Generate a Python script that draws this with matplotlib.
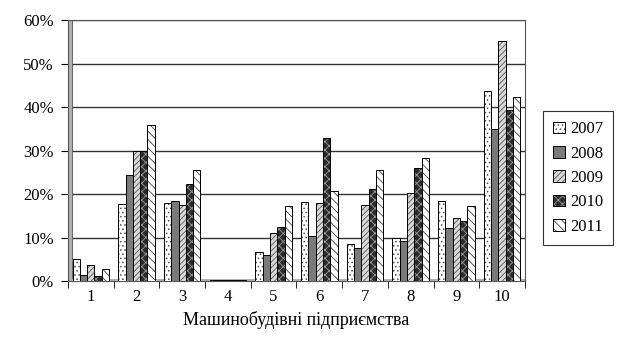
import numpy as np
import matplotlib.pyplot as plt
from matplotlib.patches import Rectangle
from matplotlib.colors import to_rgba

# -------------------------
# Data (share, %)
# -------------------------
groups = ['1', '2', '3', '4', '5', '6', '7', '8', '9', '10']
years = ['2007', '2008', '2009', '2010', '2011']
v2007 = [5.0, 17.8, 18.0, 0.2, 6.6, 18.2, 8.5, 10.0, 18.3, 43.7]
v2008 = [1.4, 24.5, 18.4, 0.2, 6.0, 10.3, 7.5, 9.3, 12.2, 35.0]
v2009 = [3.8, 29.8, 17.5, 0.2, 11.0, 18.0, 17.6, 20.2, 14.6, 55.3]
v2010 = [1.2, 30.0, 22.4, 0.2, 12.4, 33.0, 21.2, 26.0, 13.8, 39.3]
v2011 = [2.8, 36.0, 25.6, 0.2, 17.3, 20.7, 25.6, 28.2, 17.2, 42.3]
series = [v2007, v2008, v2009, v2010, v2011]

faces = ['white', '#7a7a7a', '#d8d8d8', '#2b2b2b', 'white']
hatches = ['....', '', '//////', 'xxxx', '\\\\\\\\']
hcolors = ['#555555', '#7a7a7a', '#555555', '#999999', '#444444']

plt.rcParams['font.family'] = ['Liberation Serif', 'DejaVu Serif']
plt.rcParams['hatch.linewidth'] = 0.6

fig = plt.figure(figsize=(6.41, 3.47), dpi=100)
ax = fig.add_axes([0.106, 0.19, 0.713, 0.752])

x = np.arange(len(groups))
w = 0.16
for i, (vals, yr) in enumerate(zip(series, years)):
    pos = x + (i - 2) * w
    bars = ax.bar(pos, vals, w, color=faces[i], edgecolor='black',
                  linewidth=0.7, label=yr, zorder=3)
    for b in bars:
        b.set_hatch(hatches[i])
        b._hatch_color = to_rgba(hcolors[i])

# grey side wall and floor like the 3D excel chart
ax.add_patch(Rectangle((0, 0), 0.008, 1, transform=ax.transAxes,
                       facecolor='#b0b0b0', edgecolor='#555555', lw=0.6, zorder=2))
ax.add_patch(Rectangle((0, 0), 1, 0.008, transform=ax.transAxes,
                       facecolor='#b0b0b0', edgecolor='none', zorder=2))

ax.set_xlim(-0.5, len(groups) - 0.5)
ax.set_ylim(0, 60)
ax.set_yticks(np.arange(0, 61, 10))
ax.set_yticklabels([f'{t}%' for t in range(0, 61, 10)], fontsize=12)
ax.set_xticks(x)
ax.set_xticklabels(groups, fontsize=12)
ax.set_xticks(np.arange(-0.5, len(groups), 1), minor=True)
ax.tick_params(axis='x', which='major', length=0, pad=6)
ax.tick_params(axis='x', which='minor', length=5, direction='out')
ax.tick_params(axis='y', length=5, direction='out', pad=5)
ax.yaxis.grid(True, color='#333333', linewidth=1.0, zorder=0)
ax.set_axisbelow(True)
for s in ax.spines.values():
    s.set_color('#555555')
    s.set_linewidth(0.8)

ax.set_xlabel('Машинобудівні підприємства', fontsize=13, labelpad=4)

leg = ax.legend(loc='center left', bbox_to_anchor=(1.04, 0.395), fontsize=12,
                frameon=True, fancybox=False, edgecolor='black',
                handlelength=0.7, handleheight=0.7, handletextpad=0.3,
                labelspacing=0.5, borderpad=0.6, borderaxespad=0)
leg.get_frame().set_linewidth(0.8)

fig.savefig('out.png', dpi=100)
